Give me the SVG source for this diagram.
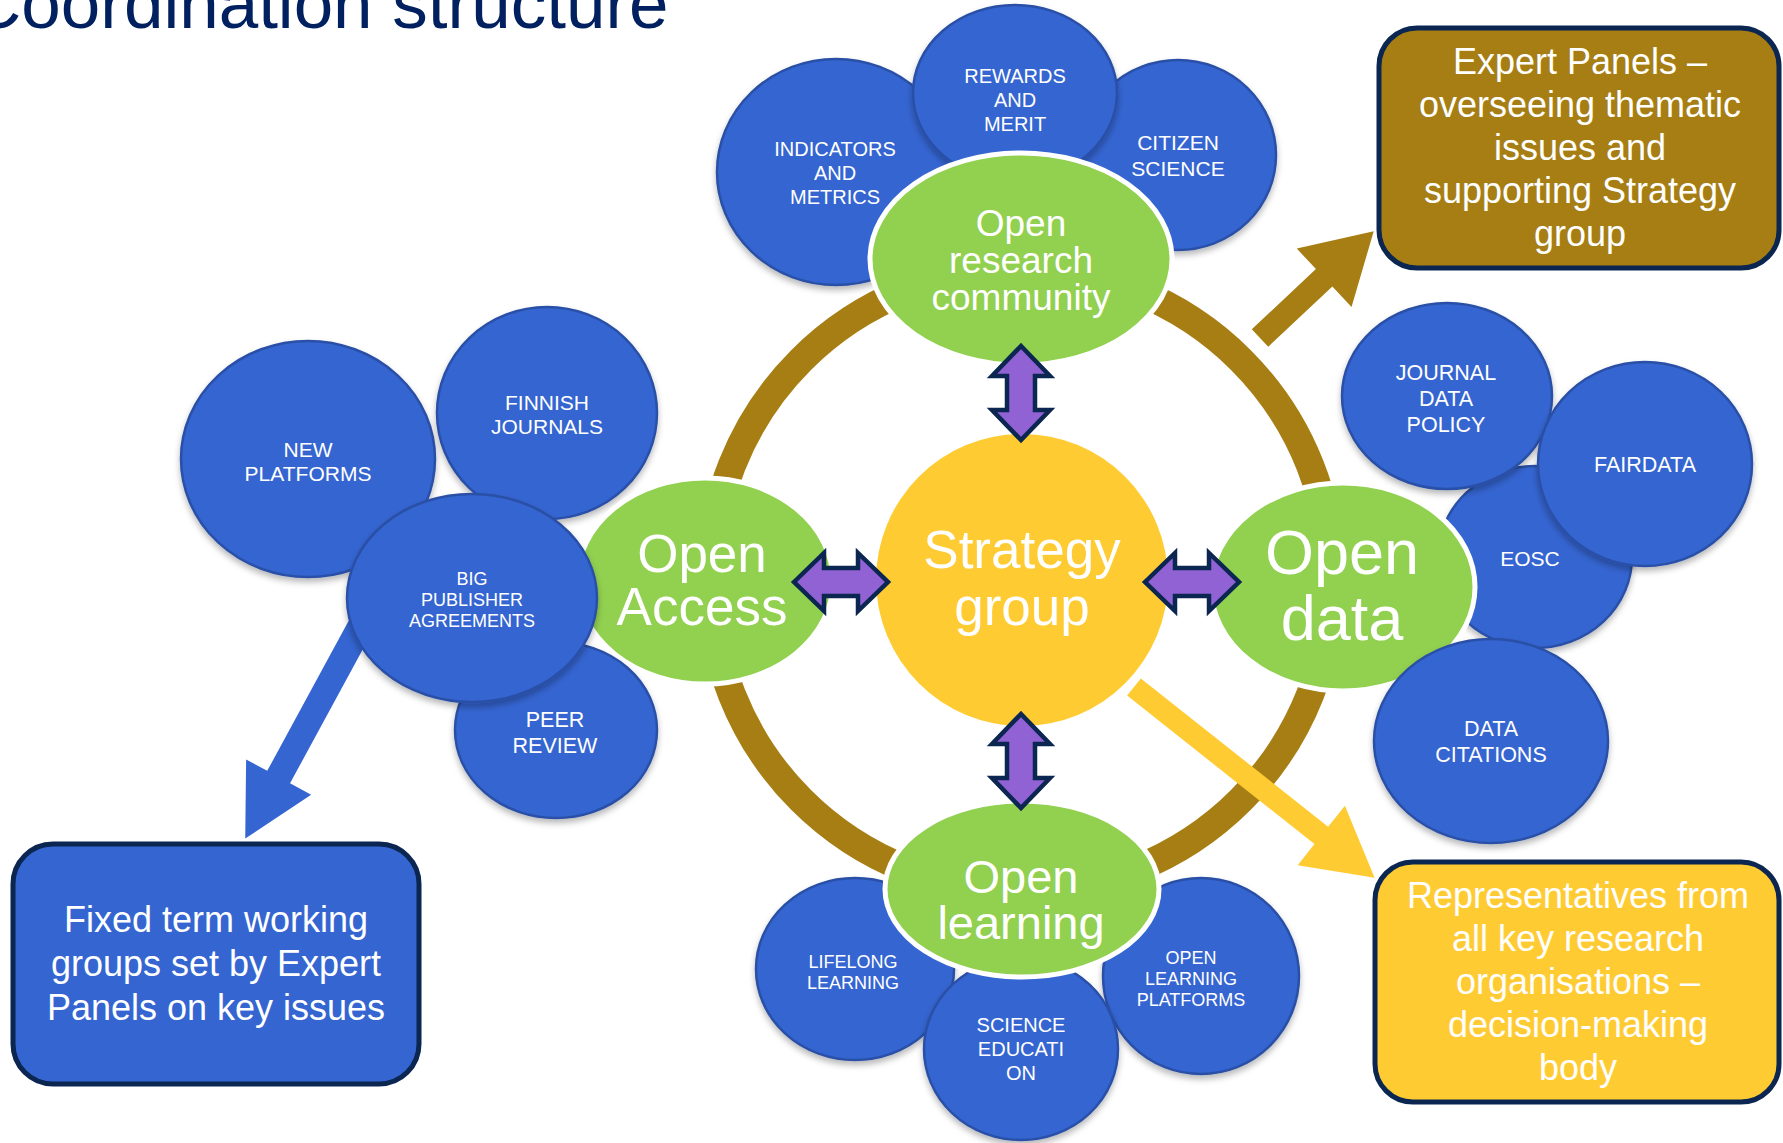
<svg xmlns="http://www.w3.org/2000/svg" width="1783" height="1143" viewBox="0 0 1783 1143">
<defs>
<filter id="sh" x="-10%" y="-10%" width="120%" height="130%"><feDropShadow dx="0" dy="4" stdDeviation="3" flood-color="#000" flood-opacity="0.28"/></filter>
<style>
.t{font-family:"Liberation Sans",Arial,sans-serif;fill:#fff;text-anchor:middle}
.blue{fill:#3465D1;stroke:#2A50A6;stroke-width:2.5;filter:url(#sh)}
.green{fill:#92D050;stroke:#fff;stroke-width:5}
.purple{fill:#9162D4;stroke:#0B2650;stroke-width:4.5;stroke-linejoin:miter}
.box{stroke:#0B2650;stroke-width:5}
</style>
<path id="dbl" d="M-47,0 L-17,-29 L-17,-14 L17,-14 L17,-29 L47,0 L17,29 L17,14 L-17,14 L-17,29 Z"/>
</defs>
<rect width="1783" height="1143" fill="#fff"/>
<text x="-30" y="28" font-family="Liberation Sans, Arial, sans-serif" font-size="71" fill="#002060">Coordination structure</text>

<g id="connectors">
<circle cx="1021" cy="580" r="311" fill="none" stroke="#A67E13" stroke-width="28"/>
<path transform="translate(1260,338) rotate(-43.2)" d="M0,-12 L88,-12 L88,-40 L156,0 L88,40 L88,12 L0,12 Z" fill="#A67E13"/>
<path transform="translate(1134,687) rotate(38.4)" d="M0,-11 L239,-11 L239,-38 L307,0 L239,38 L239,11 L0,11 Z" fill="#FFCB33"/>
<path transform="translate(365,618) rotate(118.5)" d="M0,-13 L181,-13 L181,-37 L251,0 L181,37 L181,13 L0,13 Z" fill="#3465D1"/>
</g>

<g id="n-indicators"><ellipse class="blue" cx="836" cy="172" rx="119" ry="113"/><text class="t" font-size="20"><tspan x="835" y="156">INDICATORS</tspan><tspan x="835" y="180">AND</tspan><tspan x="835" y="204">METRICS</tspan></text></g>
<g id="n-citizen"><ellipse class="blue" cx="1178" cy="155" rx="98" ry="95"/><text class="t" font-size="21"><tspan x="1178" y="150">CITIZEN</tspan><tspan x="1178" y="176">SCIENCE</tspan></text></g>
<g id="n-rewards"><ellipse class="blue" cx="1015" cy="93" rx="102" ry="88"/><text class="t" font-size="20"><tspan x="1015" y="83">REWARDS</tspan><tspan x="1015" y="107">AND</tspan><tspan x="1015" y="131">MERIT</tspan></text></g>
<g id="n-orc"><ellipse class="green" cx="1021" cy="259" rx="151" ry="106"/><text class="t" font-size="37"><tspan x="1021" y="236">Open</tspan><tspan x="1021" y="273">research</tspan><tspan x="1021" y="310">community</tspan></text></g>

<g id="n-newplatforms"><ellipse class="blue" cx="308" cy="459" rx="127" ry="118"/><text class="t" font-size="21"><tspan x="308" y="457">NEW</tspan><tspan x="308" y="481">PLATFORMS</tspan></text></g>
<g id="n-finnish"><ellipse class="blue" cx="547" cy="413" rx="110" ry="106"/><text class="t" font-size="21"><tspan x="547" y="410">FINNISH</tspan><tspan x="547" y="434">JOURNALS</tspan></text></g>
<g id="n-openaccess"><ellipse class="green" cx="705" cy="581" rx="128" ry="103"/><text class="t" font-size="53"><tspan x="702" y="572">Open</tspan><tspan x="702" y="625">Access</tspan></text></g>
<g id="n-peer"><ellipse class="blue" cx="556" cy="730" rx="101" ry="88"/><text class="t" font-size="21.5"><tspan x="555" y="727">PEER</tspan><tspan x="555" y="753">REVIEW</tspan></text></g>
<g id="n-big"><ellipse class="blue" cx="472" cy="598" rx="125" ry="104"/><text class="t" font-size="18"><tspan x="472" y="585">BIG</tspan><tspan x="472" y="606">PUBLISHER</tspan><tspan x="472" y="627">AGREEMENTS</tspan></text></g>

<g id="n-eosc"><ellipse class="blue" cx="1535" cy="557" rx="97" ry="91"/><text class="t" font-size="21"><tspan x="1530" y="566">EOSC</tspan></text></g>
<g id="n-journal"><ellipse class="blue" cx="1447" cy="396" rx="105" ry="93"/><text class="t" font-size="21.5"><tspan x="1446" y="380">JOURNAL</tspan><tspan x="1446" y="406">DATA</tspan><tspan x="1446" y="432">POLICY</tspan></text></g>
<g id="n-fairdata"><ellipse class="blue" cx="1645" cy="464" rx="107" ry="102"/><text class="t" font-size="21.5"><tspan x="1645" y="472">FAIRDATA</tspan></text></g>
<g id="n-opendata"><ellipse class="green" cx="1343" cy="587" rx="132" ry="104"/><text class="t" font-size="63"><tspan x="1342" y="574">Open</tspan><tspan x="1342" y="640">data</tspan></text></g>
<g id="n-datacitations"><ellipse class="blue" cx="1491" cy="741" rx="117" ry="102"/><text class="t" font-size="21.5"><tspan x="1491" y="736">DATA</tspan><tspan x="1491" y="762">CITATIONS</tspan></text></g>

<g id="n-lifelong"><ellipse class="blue" cx="855" cy="969" rx="99" ry="91"/><text class="t" font-size="18"><tspan x="853" y="968">LIFELONG</tspan><tspan x="853" y="989">LEARNING</tspan></text></g>
<g id="n-olplatforms"><ellipse class="blue" cx="1201" cy="976" rx="98" ry="98"/><text class="t" font-size="18"><tspan x="1191" y="964">OPEN</tspan><tspan x="1191" y="985">LEARNING</tspan><tspan x="1191" y="1006">PLATFORMS</tspan></text></g>
<g id="n-science"><ellipse class="blue" cx="1021" cy="1049" rx="97" ry="91"/><text class="t" font-size="20"><tspan x="1021" y="1032">SCIENCE</tspan><tspan x="1021" y="1056">EDUCATI</tspan><tspan x="1021" y="1080">ON</tspan></text></g>
<g id="n-openlearning"><ellipse class="green" cx="1022" cy="889" rx="137" ry="88"/><text class="t" font-size="47"><tspan x="1021" y="893">Open</tspan><tspan x="1021" y="939">learning</tspan></text></g>

<g id="n-strategy"><circle cx="1022" cy="580" r="146" fill="#FFCB33"/><text class="t" font-size="53"><tspan x="1022" y="568">Strategy</tspan><tspan x="1022" y="625">group</tspan></text></g>

<g id="connectors-links">
<use href="#dbl" class="purple" transform="translate(1021,393) rotate(90)"/>
<use href="#dbl" class="purple" transform="translate(1021,761) rotate(90)"/>
<use href="#dbl" class="purple" transform="translate(841,582)"/>
<use href="#dbl" class="purple" transform="translate(1192,582)"/>
</g>

<g id="n-expert"><rect class="box" x="1379" y="28" width="400" height="240" rx="38" fill="#A67E13"/><text class="t" font-size="36"><tspan x="1580" y="74">Expert Panels –</tspan><tspan x="1580" y="117">overseeing thematic</tspan><tspan x="1580" y="160">issues and</tspan><tspan x="1580" y="203">supporting Strategy</tspan><tspan x="1580" y="246">group</tspan></text></g>
<g id="n-representatives"><rect class="box" x="1375" y="862" width="404" height="240" rx="38" fill="#FFCB33"/><text class="t" font-size="36"><tspan x="1578" y="908">Representatives from</tspan><tspan x="1578" y="951">all key research</tspan><tspan x="1578" y="994">organisations –</tspan><tspan x="1578" y="1037">decision-making</tspan><tspan x="1578" y="1080">body</tspan></text></g>
<g id="n-fixedterm"><rect class="box" x="13" y="844" width="406" height="240" rx="40" fill="#3465D1"/><text class="t" font-size="36"><tspan x="216" y="932">Fixed term working</tspan><tspan x="216" y="976">groups set by Expert</tspan><tspan x="216" y="1020">Panels on key issues</tspan></text></g>
</svg>
